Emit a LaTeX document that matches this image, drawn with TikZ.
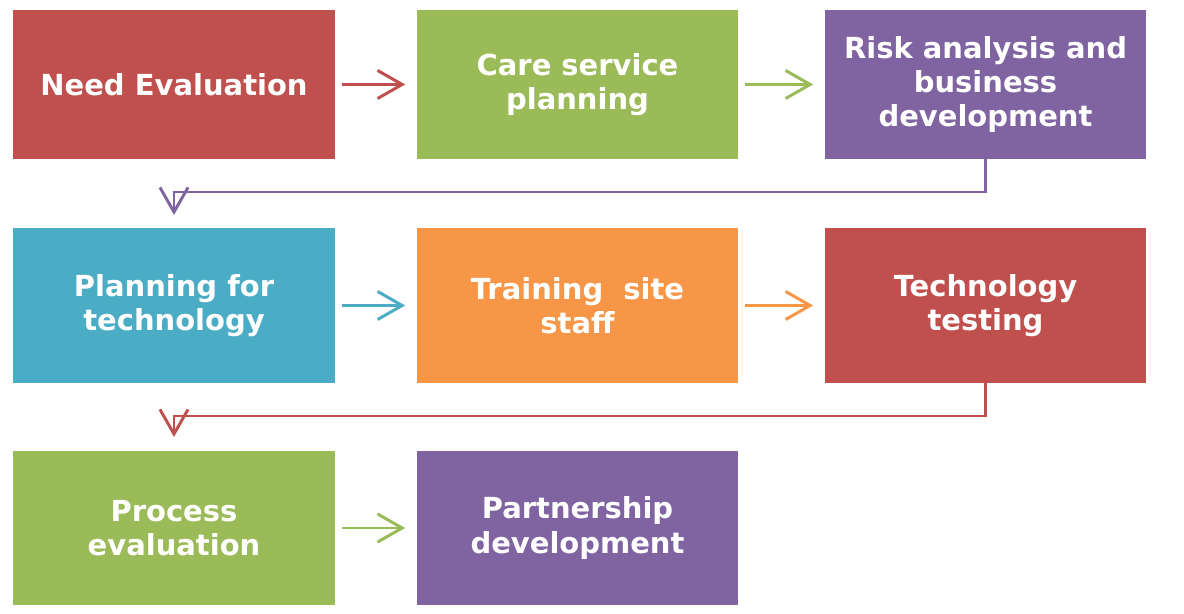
\documentclass[tikz,border=0pt]{standalone}
\usepackage{fontspec}
\setsansfont{DejaVu Sans}
\usetikzlibrary{arrows.meta}

\definecolor{stepred}{HTML}{C0504D}
\definecolor{stepgreen}{HTML}{9BBB59}
\definecolor{steppurple}{HTML}{8064A2}
\definecolor{stepblue}{HTML}{4BACC6}
\definecolor{steporange}{HTML}{F79646}

\begin{document}
\begin{tikzpicture}[x=0.02cm, y=-0.02cm,
    stage/.style={fill=#1, text=white, inner sep=0pt, align=center,
      minimum width=6.44cm, minimum height=3.1cm,
      font=\sffamily\bfseries\fontsize{16.5}{19.5}\selectfont},
    link/.style={draw=#1, line width=1.7pt,
      -{Straight Barb[length=14pt, width=16pt]}},
    flat/.style={shorten <=0.13cm, shorten >=0.22cm}]
  \useasboundingbox (0,0) rectangle (1184,614);

  % first row
  \node[stage=stepred, minimum height=2.98cm] (need) at (174,84.5) {Need Evaluation};
  \node[stage=stepgreen, minimum height=2.98cm] (care) at (577.5,84.5) {Care service\\planning};
  \node[stage=steppurple, minimum height=2.98cm] (risk) at (985.5,84.5) {Risk analysis and\\business\\development};

  % second row
  \node[stage=stepblue] (plan) at (174,305.5) {Planning for\\technology};
  \node[stage=steporange] (train) at (577.5,305.5) {Training~ site\\staff};
  \node[stage=stepred] (test) at (985.5,305.5) {Technology\\testing};

  % third row
  \node[stage=stepgreen] (proc) at (174,528) {Process\\evaluation};
  \node[stage=steppurple] (part) at (577.5,528) {Partnership\\development};

  \draw[link=stepred, flat] (need) -- (care);
  \draw[link=stepgreen, flat] (care) -- (risk);
  \draw[link=stepblue, flat] (plan) -- (train);
  \draw[link=steporange, flat] (train) -- (test);
  \draw[link=stepgreen, flat] (proc) -- (part);

  % turns down to the next row
  \coordinate (turn1) at (985.5,192);
  \coordinate (drop1) at (174,215);
  \draw[link=steppurple] (risk.south) -- (turn1) -| (drop1);
  \coordinate (turn2) at (985.5,416);
  \coordinate (drop2) at (174,437);
  \draw[link=stepred] (test.south) -- (turn2) -| (drop2);
\end{tikzpicture}
\end{document}
